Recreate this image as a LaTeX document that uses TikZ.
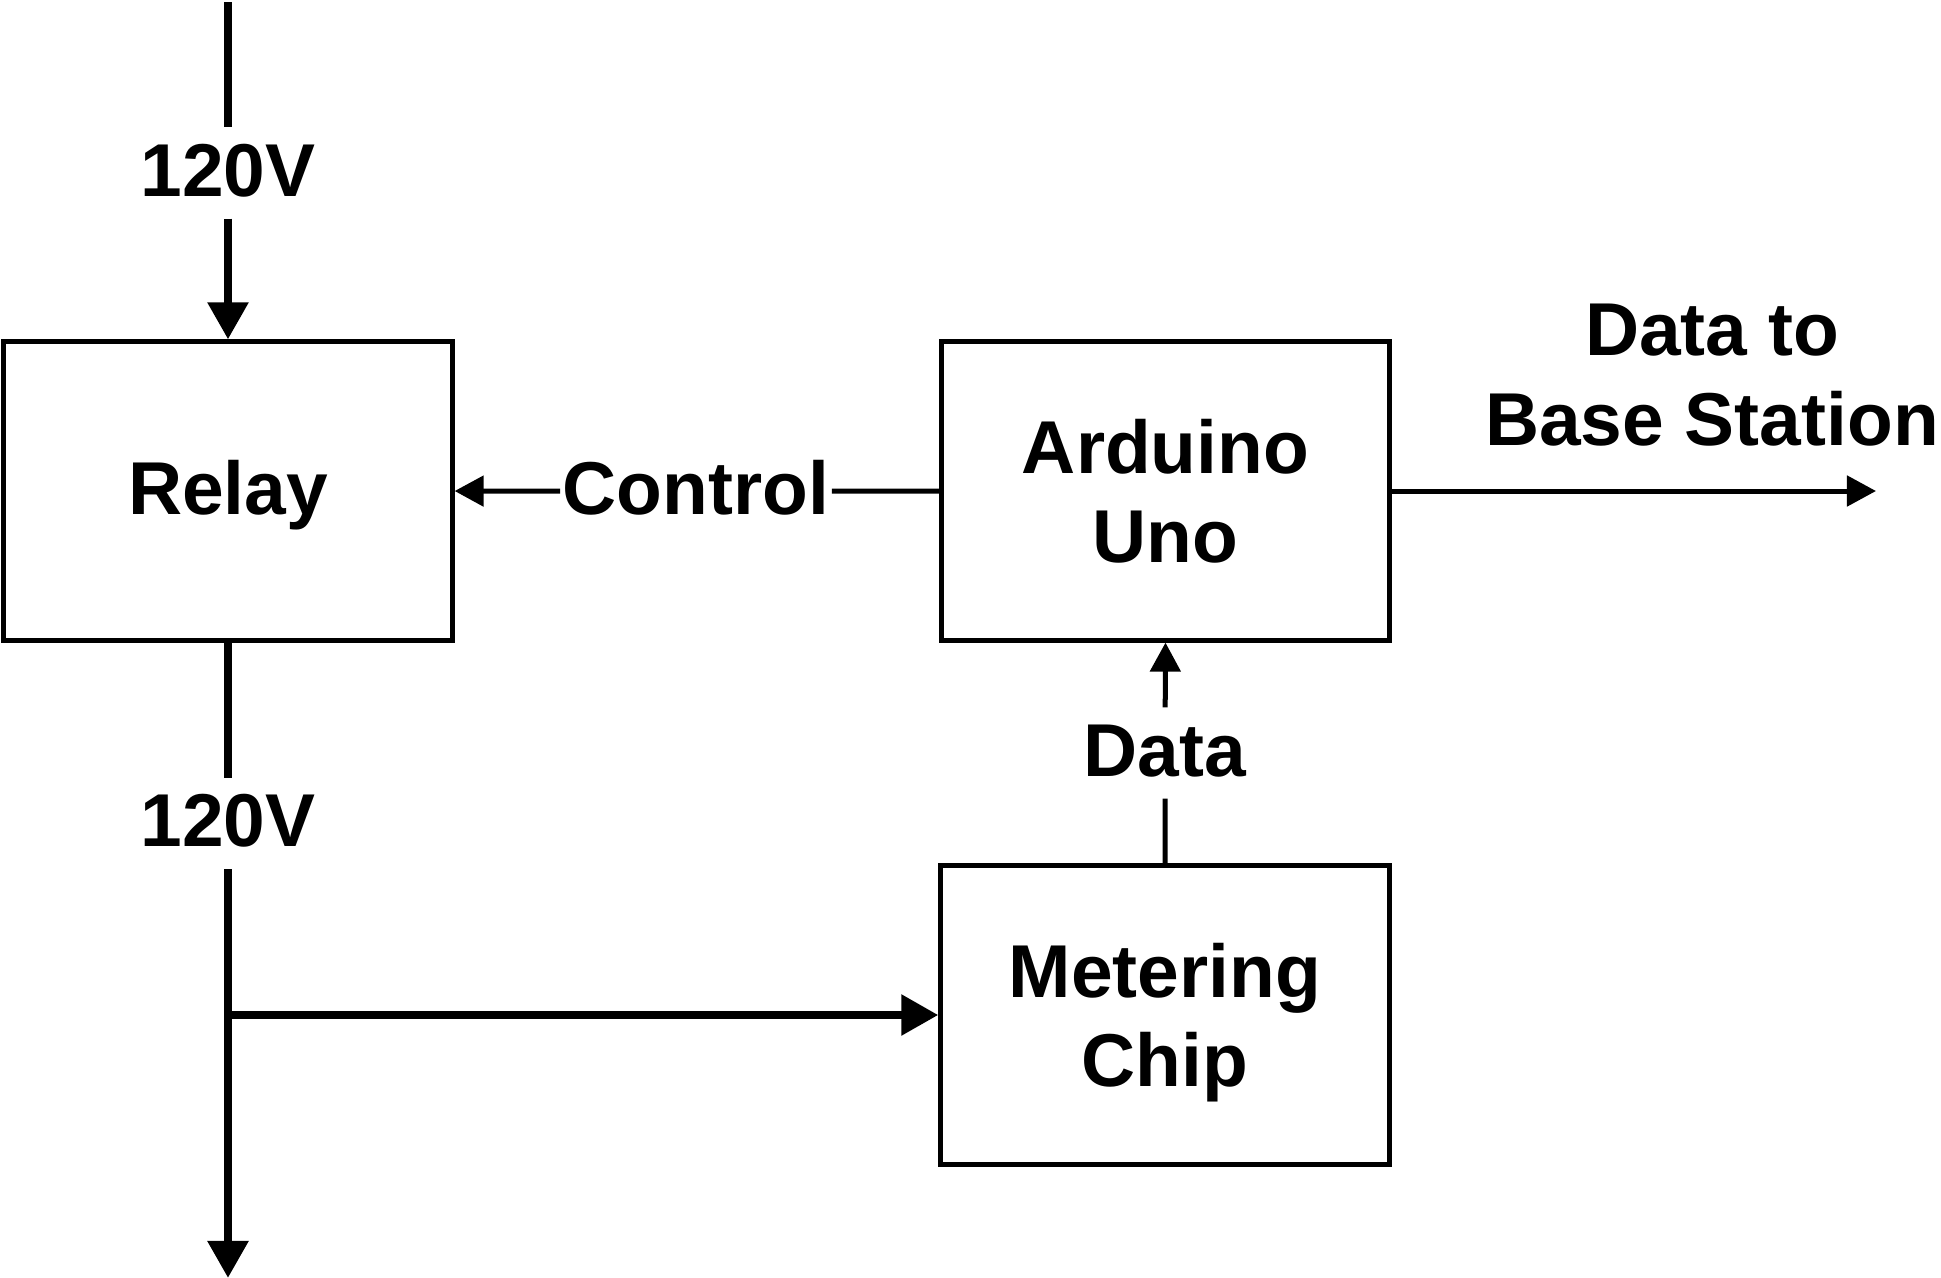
\documentclass[tikz,border=0pt]{standalone}
\usepackage{fontspec}
\setmainfont{Liberation Sans}
\usetikzlibrary{arrows.meta}
\begin{document}
\begin{tikzpicture}[x=0.01cm,y=-0.01cm,
  txt/.style={font=\fontsize{21.3}{25.4}\selectfont\bfseries},
  blk/.style={txt, draw, line width=0.05cm, minimum width=4.48cm, minimum height=2.98cm, inner sep=0pt, align=center},
  lbl/.style={txt, fill=white, inner xsep=0.02cm, inner ysep=0.14cm, text height=0.54cm, text depth=0.08cm},
  power/.style={line width=0.085cm, -{Triangle[length=0.37cm,width=0.39cm]}},
  sig/.style={line width=0.05cm, -{Triangle[length=0.29cm,width=0.30cm]}}]
\fill[white] (0,0) rectangle (1941,1278);
\useasboundingbox (0,0) rectangle (1941,1278);
% blocks
\node[blk, text height=0.46cm, text depth=0pt] (relay) at (228,491) {Relay};
\node[blk] (ard) at (1165.5,491) {Arduino\\Uno};
\node[blk] (met) at (1165,1015) {Metering\\\smash{Chip}};
% labels
\node[lbl] (v1) at (228,173) {120V};
\node[lbl] (v2) at (228,823.5) {120V};
\node[lbl] (ctl) at (696,491.5) {Control};
\node[lbl] (dat) at (1165,753) {Data};
\node[txt, align=center] (dest) at (1712,375) {Data to\\Base Station};
% free ends
\coordinate (src) at (228,2);
\coordinate (sink) at (228,1278);
\coordinate (jn) at (228,1015);
\coordinate (out) at (1876,491);
% connectors
\draw[power] (src) -- (v1) -- (relay.north);
\draw[power] (relay.south) -- (v2) -- (jn) -- (sink);
\draw[power] (jn) -- (met.west);
\draw[sig] (ard.west) -- (ctl) -- (relay.east);
\draw[sig] (met.north) -- (dat) -- (ard.south);
\draw[sig] (ard.east) -- (out);
\end{tikzpicture}
\end{document}
